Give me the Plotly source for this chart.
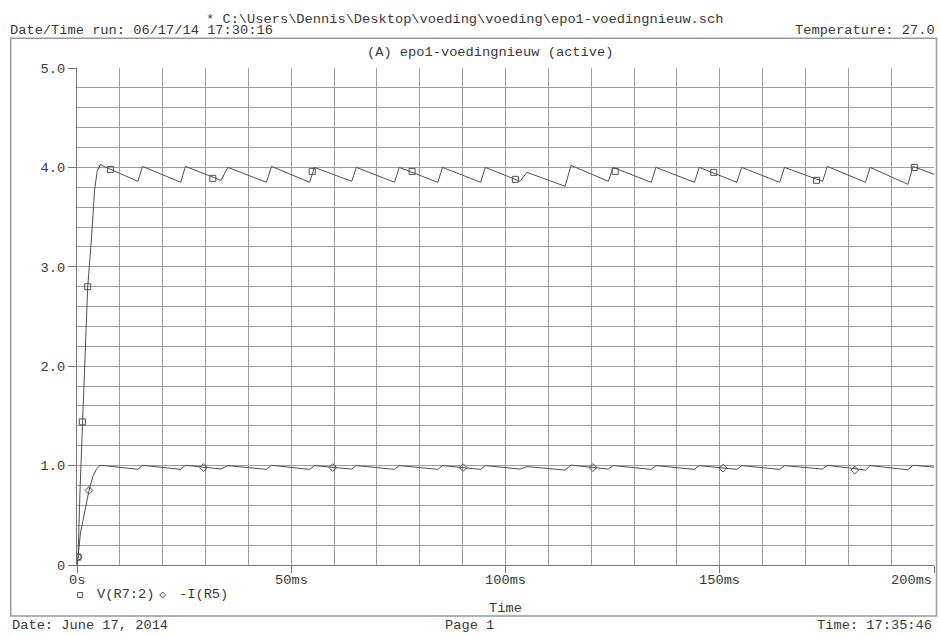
import plotly.graph_objects as go

# ---------------- data ----------------
# V(R7:2): start-up then rectifier ripple (time in ms, volts)
v_start_t = [0, 0.25, 0.7, 1.25, 1.9, 2.5, 3.35, 4.1, 4.7, 5.5, 6.3]
v_start_v = [0, 0.08, 0.75, 1.44, 2.15, 2.80, 3.27, 3.77, 3.96, 4.03, 4.01]
trough_t = [14.2, 24.2, 33.6, 44.2, 54.3, 64.1, 74.1, 84.2, 94.2, 103.4,
            113.9, 124.0, 134.0, 144.1, 154.0, 164.0, 174.0, 184.0, 193.9]
peak_t = [15.3, 25.3, 35.2, 45.4, 55.4, 65.2, 75.2, 85.3, 95.3, 105.0,
          115.3, 125.1, 135.1, 145.2, 155.1, 165.1, 175.1, 185.1, 195.1]
v_trough = [3.86, 3.85, 3.87, 3.85, 3.85, 3.86, 3.85, 3.85, 3.85, 3.86,
            3.81, 3.86, 3.85, 3.85, 3.85, 3.85, 3.86, 3.85, 3.83]
v_peak = [4.01, 4.01, 4.00, 4.01, 4.00, 4.00, 4.00, 4.00, 4.00, 3.95,
          4.02, 4.00, 4.00, 4.00, 4.00, 4.00, 4.01, 4.00, 4.01]
v_end_t, v_end = 200, 3.93

# -I(R5): start-up then small ripple (amps)
i_start_t = [0, 0.25, 0.8, 1.8, 2.8, 3.7, 4.6, 5.3, 6.3]
i_start_v = [0, 0.08, 0.32, 0.55, 0.75, 0.89, 0.97, 1.00, 1.00]
i_trough = [0.963, 0.962, 0.966, 0.962, 0.962, 0.965, 0.962, 0.962, 0.962, 0.965,
            0.955, 0.965, 0.962, 0.962, 0.962, 0.962, 0.965, 0.955, 0.958]
i_peak = [1.003, 1.003, 1.0, 1.003, 1.0, 1.0, 1.0, 1.0, 1.0, 0.99,
          1.005, 1.0, 1.0, 1.0, 1.0, 1.0, 1.003, 1.0, 1.003]
i_end = 0.985

# symbol markers placed along the traces
v_mark_t = [0.25, 1.25, 2.5, 7.8, 31.7, 54.9, 78.2, 102.3, 125.6, 148.6, 172.6, 195.4]
v_mark_v = [0.08, 1.44, 2.80, 3.98, 3.89, 3.96, 3.96, 3.88, 3.96, 3.95, 3.87, 4.00]
i_mark_t = [0.25, 2.8, 29.5, 59.7, 90.1, 120.4, 150.8, 181.5]
i_mark_v = [0.08, 0.75, 0.98, 0.98, 0.98, 0.98, 0.975, 0.955]

x_tick_vals = [0, 50, 100, 150, 200]
x_tick_text = ["0s", "50ms", "100ms", "150ms", "200ms"]
y_tick_vals = [0, 1, 2, 3, 4, 5]
y_tick_text = ["0", "1.0", "2.0", "3.0", "4.0", "5.0"]

# ---------------- build series ----------------
vt, vv = list(v_start_t), list(v_start_v)
it, iv = list(i_start_t), list(i_start_v)
for k in range(len(peak_t)):
    vt += [trough_t[k], peak_t[k]]
    vv += [v_trough[k], v_peak[k]]
    it += [trough_t[k], peak_t[k]]
    iv += [i_trough[k], i_peak[k]]
vt.append(v_end_t); vv.append(v_end)
it.append(v_end_t); iv.append(i_end)

FONT = "Liberation Mono, Courier New, monospace"
TXT = "#3a3a3a"
LINE = "#505050"
GRID = "#9c9c9c"

fig = go.Figure()
fig.add_trace(go.Scatter(x=vt, y=vv, mode="lines", line=dict(color=LINE, width=1), showlegend=False))
fig.add_trace(go.Scatter(x=it, y=iv, mode="lines", line=dict(color=LINE, width=1), showlegend=False))
fig.add_trace(go.Scatter(x=v_mark_t, y=v_mark_v, mode="markers",
                         marker=dict(symbol="square-open", size=6, color=LINE, line=dict(width=1)),
                         showlegend=False))
fig.add_trace(go.Scatter(x=i_mark_t, y=i_mark_v, mode="markers",
                         marker=dict(symbol="diamond-open", size=6, color=LINE, line=dict(width=1)),
                         showlegend=False))

L, R, T, B = 77.3, 934.5, 67.7, 565.0
W, H = 940, 635
pw, ph = R - L, B - T


def px(x):
    return (x - L) / pw


def py(y):
    return (B - y) / ph


fig.update_layout(
    width=W, height=H,
    margin=dict(l=L, r=W - R, t=T, b=H - B, pad=0),
    paper_bgcolor="white", plot_bgcolor="white",
    font=dict(family=FONT, size=13.7, color=TXT),
    xaxis=dict(range=[0, 200], tickmode="array", tickvals=x_tick_vals, ticktext=x_tick_text,
               showticklabels=False, ticks="outside", ticklen=7, tickcolor="#777",
               showgrid=True, gridcolor=GRID, gridwidth=1, zeroline=False,
               showline=True, linecolor="#777", linewidth=1, mirror=False,
               minor=dict(dtick=10, tick0=0, showgrid=True, gridcolor=GRID, gridwidth=1, ticks="")),
    yaxis=dict(range=[0, 5], tickmode="array", tickvals=y_tick_vals, ticktext=y_tick_text,
               ticks="outside", ticklen=8, tickcolor="#777",
               tickfont=dict(family=FONT, size=13.7, color=TXT),
               showgrid=True, gridcolor=GRID, gridwidth=1, zeroline=False,
               showline=True, linecolor="#777", linewidth=1,
               minor=dict(dtick=0.2, tick0=0, showgrid=True, gridcolor=GRID, gridwidth=1, ticks="")),
)

ann = []
for v, txt in zip(x_tick_vals, x_tick_text):
    ann.append(dict(x=v, y=py(581), xref="x", yref="paper", text=txt, showarrow=False,
                    xanchor="right" if v == 200 else "center", yanchor="middle"))


def label(x, y, text, anchor="left"):
    ann.append(dict(x=px(x), y=py(y), xref="paper", yref="paper", text=text, showarrow=False,
                    xanchor=anchor, yanchor="middle"))


label(465, 19, "* C:\\Users\\Dennis\\Desktop\\voeding\\voeding\\epo1-voedingnieuw.sch", "center")
label(8, 30, "Date/Time run: 06/17/14 17:30:16", "left")
label(938, 30, "Temperature: 27.0", "right")
label(490, 52, "(A) epo1-voedingnieuw (active)", "center")
label(95, 595, "V(R7:2)", "left")
label(177, 595, "-I(R5)", "left")
label(506, 609, "Time", "center")
label(10, 626, "Date: June 17, 2014", "left")
label(470, 626, "Page 1", "center")
label(935, 626, "Time: 17:35:46", "right")
fig.update_layout(annotations=ann)

shapes = [
    dict(type="rect", xref="paper", yref="paper", x0=px(11), x1=px(937), y0=py(616), y1=py(38),
         line=dict(color="#999", width=1.5)),
    dict(type="rect", xref="paper", yref="paper", x0=px(78), x1=px(83), y0=py(597.5), y1=py(592.5),
         line=dict(color=LINE, width=1)),
    dict(type="path", xref="paper", yref="paper",
         path="M {a},{b} L {c},{d} L {a},{e} L {f},{d} Z".format(
             a=px(163), b=py(592), c=px(166), d=py(595), e=py(598), f=px(160)),
         line=dict(color=LINE, width=1)),
]
fig.update_layout(shapes=shapes)

fig.write_html("out.html", config={"displayModeBar": False},
               post_script="document.body.style.margin='0';")
